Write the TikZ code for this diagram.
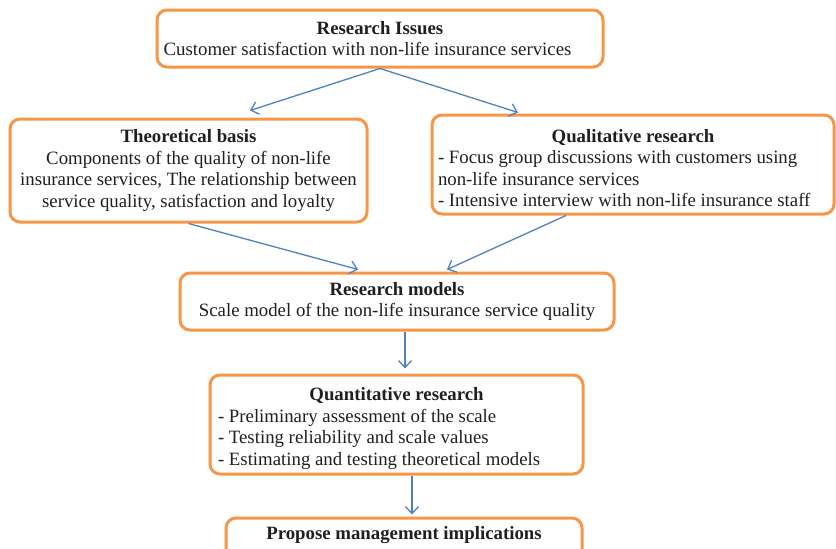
\documentclass[tikz,border=0pt]{standalone}
\usepackage{fontspec}
\setmainfont{Liberation Serif}
\usetikzlibrary{arrows.meta}
\definecolor{boxorange}{RGB}{247,150,70}
\definecolor{arrowblue}{RGB}{79,129,189}
\begin{document}
\begin{tikzpicture}[x=1pt,y=-1pt,
  box/.style={draw=boxorange, line width=3pt, rounded corners=10pt, inner sep=0pt,
    font=\fontsize{18.8}{21.6}\selectfont, text=black!88},
  conn/.style={draw=arrowblue, line width=1.3pt, -{Straight Barb[length=7pt,width=13pt]}}]
\useasboundingbox (0,0) rectangle (836,549);

\node[box, minimum width=446pt, minimum height=57pt, align=center] (issues) at (380,38.5)
  {\textbf{Research Issues}\\Customer satisfaction with non-life insurance services\hspace*{25pt}};

\node[box, minimum width=357pt, minimum height=103pt, align=center] (theory) at (188.5,170.5)
  {\textbf{Theoretical basis}\\Components of the quality of non-life\\insurance services, The relationship between\\service quality, satisfaction and loyalty};

\node[box, minimum width=402pt, minimum height=99pt, text width=390pt, align=flush left] (qual) at (633,164.5)
  {{\centering\bfseries\rule{0pt}{20pt}Qualitative research\par}- Focus group discussions with customers using\\non-life insurance services\\- Intensive interview with non-life insurance staff};

\node[box, minimum width=434pt, minimum height=57pt, align=center] (models) at (397,301.5)
  {\textbf{Research models}\\Scale model of the non-life insurance service quality};

\node[box, minimum width=373pt, minimum height=99pt, text width=357pt, align=flush left] (quant) at (396.5,424.5)
  {{\centering\bfseries\rule{0pt}{21pt}Quantitative research\par}- Preliminary assessment of the scale\\- Testing reliability and scale values\\- Estimating and testing theoretical models};

\node[box, minimum width=356pt, minimum height=58pt, align=center] (propose) at (404,547)
  {\textbf{Propose management implications}\\ \strut};

\draw[conn] (issues.south) -- ([xshift=61.5pt,yshift=7pt]theory.north);
\draw[conn] (issues.south) -- ([xshift=-115pt,yshift=1pt]qual.north);
\draw[conn] (theory.south) -- ([xshift=-39pt,yshift=2pt]models.north);
\draw[conn] ([xshift=-67pt]qual.south) -- ([xshift=50pt,yshift=2pt]models.north);
\draw[conn] ([xshift=8pt]models.south) -- ([xshift=8.5pt,yshift=5pt]quant.north);
\draw[conn] ([xshift=15.5pt]quant.south) -- ([xshift=8pt,yshift=2pt]propose.north);
\end{tikzpicture}
\end{document}
